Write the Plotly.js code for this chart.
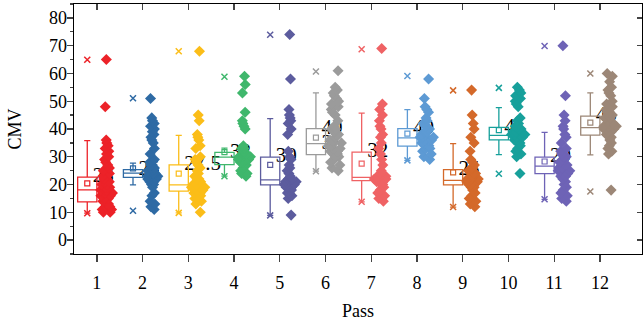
<!DOCTYPE html>
<html>
<head>
<meta charset="utf-8">
<script src="https://cdn.plot.ly/plotly-3.0.1.min.js"></script>
<style>html,body{margin:0;padding:0;background:#fff;}#chart{width:643px;height:323px;}</style>
</head>
<body>
<div id="chart"></div>
<script>
// ---- data ----
const passes = [1,2,3,4,5,6,7,8,9,10,11,12];
const passLabels = ['1','2','3','4','5','6','7','8','9','10','11','12'];
const q1 = [13.8, 22.6, 17.6, 27.2, 19.9, 30.8, 21.4, 33.8, 19.9, 36.1, 23.9, 37.8];
const median = [18.1, 24.1, 19.9, 29.9, 21.7, 34.7, 22.6, 36.8, 21.5, 37.7, 26.6, 40.5];
const q3 = [22.7, 25.4, 27.1, 31.6, 29.9, 40.1, 31.7, 40.1, 25.4, 40.6, 29.9, 44.6];
const whiskerLow = [9.7, 19.9, 9.8, 23.0, 8.9, 24.8, 13.8, 28.7, 11.9, 30.8, 14.7, 30.7];
const whiskerHigh = [35.8, 27.7, 37.7, 33.1, 43.7, 53.0, 45.7, 47.0, 34.7, 47.7, 38.8, 53.0];
const means = [20.4, 25.8, 23.9, 31.7, 27.1, 36.9, 27.5, 38.3, 24.4, 39.6, 28.3, 42.3];
const minVals = [9.7, 10.6, 9.8, 23.0, 8.9, 24.8, 13.8, 28.7, 11.9, 23.9, 14.7, 17.5];
const maxVals = [64.9, 51.1, 68.0, 58.8, 73.9, 60.7, 68.7, 59.1, 53.9, 54.8, 69.9, 60.0];
const q3Labels = ['23','25','27.5','32','30','40','32','40','25','41','29','45'];
const medianLabels = ['','','','','','35','','','','','',''];

const pass1Pts = [65,48,36,35,34,33,32,31,30,29,28,27,26,25,24,23,22,22,21,21,20,20,19,19,19,18,18,18,17,17,17,16,16,15,15,14,14,13,13,12,12,11,11,10,10];
const pass2Pts = [51,44,43,42,41,40,39,38,37,36,35,33,31,29,28,27,27,26,26,25,25,25,24,24,24,24,23,23,23,23,22,22,22,21,21,20,20,19,17,16,14,13,12,11];
const pass3Pts = [68,45,43,38,37,36,34,33,30,29,28,27,26,25,24,23,22,22,21,21,20,20,20,19,19,19,18,18,18,17,17,17,16,16,15,15,14,13,10];
const pass4Pts = [59,56,53,46,43,42,41,40,34,33,33,32,32,31,31,31,30,30,30,30,29,29,29,29,28,28,28,27,27,26,25,24,24,23];
const pass5Pts = [74,58,47,45,44,43,42,40,38,32,30,29,27,26,25,24,23,22,22,22,21,21,21,21,20,20,20,20,19,19,19,18,18,17,17,16,15,9];
const pass6Pts = [61,55,54,53,52,51,50,49,48,47,46,45,43,41,40,40,39,38,38,37,36,36,35,35,34,34,33,33,32,32,31,31,30,30,29,28,27,26,25];
const pass7Pts = [69,49,47,45,43,41,40,38,37,35,33,31,29,27,25,24,23,23,23,22,22,22,22,21,21,21,20,20,19,18,17,16,15,14];
const pass8Pts = [58,51,48,47,46,44,43,42,41,40,40,39,39,38,38,37,37,37,36,36,36,35,35,34,34,33,33,32,31,30,29];
const pass9Pts = [54,45,42,40,37,35,32,29,28,27,26,26,25,25,24,24,23,23,22,22,22,21,21,21,20,20,20,19,19,18,17,16,15,14,13,12];
const pass10Pts = [55,54,53,52,51,50,49,48,44,43,42,41,41,40,40,40,39,39,39,38,38,38,37,37,37,36,36,35,35,34,33,32,31,30,24];
const pass11Pts = [70,52,45,43,41,40,38,37,35,33,32,31,30,30,29,29,28,28,27,27,27,26,26,26,25,25,25,24,24,23,23,22,21,20,19,18,17,16,15,14];
const pass12Pts = [60,59,57,55,54,53,52,50,49,48,47,46,46,45,45,44,44,43,43,42,42,42,41,41,41,40,40,40,39,39,38,38,37,36,35,34,33,32,31,18];
const allPts = [pass1Pts,pass2Pts,pass3Pts,pass4Pts,pass5Pts,pass6Pts,pass7Pts,pass8Pts,pass9Pts,pass10Pts,pass11Pts,pass12Pts];

// ---- style ----
const colors = ['#ec2228','#2e6aa4','#fbbd18','#3fb76c','#5c5c9e','#9b9b9b','#ef6264','#5d9ad4','#d4692a','#17a09b','#6e63b6','#9c8777'];
const BOX_OFF = -0.21, PTS_OFF = 0.22, LBL_OFF = -0.09;
const FONT = 'Liberation Serif, Times New Roman, serif';

const traces = [];
// labels behind points (base subplot)
traces.push({
  type:'scatter', mode:'text', x: passes.map(p=>p+LBL_OFF).concat(passes.map(p=>p+LBL_OFF)),
  y: q3.concat(median), text: q3Labels.concat(medianLabels), textposition:'middle right',
  textfont:{family:FONT, size:21, color:'#000'}, showlegend:false, hoverinfo:'skip', cliponaxis:false
});
passes.forEach((p,i)=>{
  traces.push({
    type:'box', xaxis:'x2', yaxis:'y2', x:[p+BOX_OFF], q1:[q1[i]], median:[median[i]], q3:[q3[i]],
    lowerfence:[whiskerLow[i]], upperfence:[whiskerHigh[i]], boxpoints:false, width:0.42,
    whiskerwidth:0.32, line:{color:colors[i], width:1.3}, fillcolor:'rgba(255,255,255,0)', showlegend:false
  });
  traces.push({
    type:'box', xaxis:'x2', yaxis:'y2', x: allPts[i].map(()=>p+PTS_OFF), y: allPts[i],
    boxpoints:'all', jitter:0.75, pointpos:0, width:0.42, line:{color:'rgba(0,0,0,0)', width:0},
    fillcolor:'rgba(0,0,0,0)', marker:{symbol:'diamond', size:8.5, color:colors[i]}, showlegend:false
  });
});
traces.push({
  type:'scatter', mode:'markers', xaxis:'x2', yaxis:'y2', x: passes.map(p=>p+BOX_OFF), y: means,
  marker:{symbol:'square-open', size:5, color:colors, line:{width:1.2, color:colors}}, showlegend:false
});
traces.push({
  type:'scatter', mode:'markers', xaxis:'x2', yaxis:'y2',
  x: passes.map(p=>p+BOX_OFF).concat(passes.map(p=>p+BOX_OFF)), y: minVals.concat(maxVals),
  marker:{symbol:'x-thin-open', size:6, color:colors.concat(colors), line:{width:1.5, color:colors.concat(colors)}}, showlegend:false
});

const XR = [0.5, 12.92], YR = [-5, 85];
const layout = {
  width:643, height:323, margin:{l:74, r:1, t:4, b:69},
  paper_bgcolor:'#fff', plot_bgcolor:'#fff', showlegend:false, boxmode:'overlay',
  font:{family:FONT, size:18, color:'#000'},
  xaxis:{range:XR, tickvals:passes, ticktext:passLabels, ticks:'outside', ticklen:7, tickwidth:1.3,
    ticklabelstandoff:5,
    showline:true, linewidth:1.3, linecolor:'#000', showgrid:false, zeroline:false,
    tickfont:{family:FONT, size:18}, title:{text:'Pass', font:{family:FONT, size:18}, standoff:12}},
  yaxis:{range:YR, tick0:0, dtick:10, ticks:'outside', ticklen:6, tickwidth:1.3,
    ticklabelstandoff:-4,
    minor:{dtick:5, ticks:'outside', ticklen:3, tickwidth:1.3, showgrid:false},
    showline:true, linewidth:1.3, linecolor:'#000', showgrid:false, zeroline:false,
    tickfont:{family:FONT, size:18}, title:{text:'CMV', font:{family:FONT, size:18}, standoff:22}},
  xaxis2:{range:XR, overlaying:'x', side:'top', anchor:'y2', tickvals:passes, ticks:'inside', ticklen:6, tickwidth:1.3,
    showticklabels:false, showline:true, linewidth:1.3, linecolor:'#000', showgrid:false, zeroline:false},
  yaxis2:{range:YR, overlaying:'y', side:'right', anchor:'x2', tick0:0, dtick:10, ticks:'inside', ticklen:5, tickwidth:1.3,
    showticklabels:false, showline:true, linewidth:1.3, linecolor:'#000', showgrid:false, zeroline:false}
};
Plotly.newPlot('chart', traces, layout, {staticPlot:true, displayModeBar:false});
</script>
</body>
</html>
